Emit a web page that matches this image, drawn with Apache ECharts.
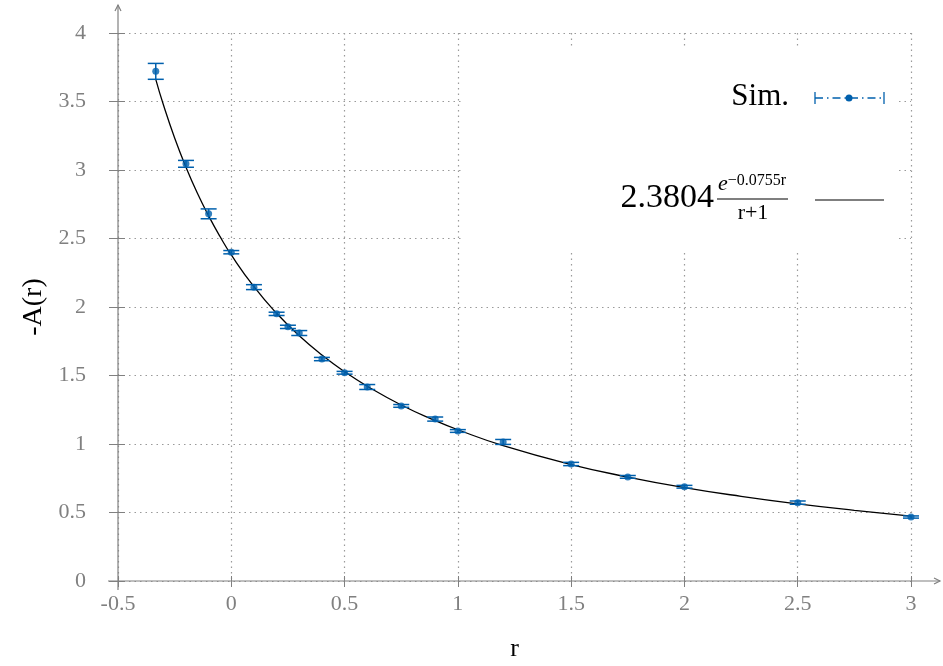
<!DOCTYPE html>
<html>
<head>
<meta charset="utf-8">
<script src="https://cdn.jsdelivr.net/npm/echarts@6/dist/echarts.min.js"></script>
<style>
html,body{margin:0;padding:0;background:#fff;}
#main{width:943px;height:666px;}
</style>
</head>
<body>
<div id="main"></div>
<script>
// ---- data ----
const rValues = [-0.3333, -0.2, -0.1, 0, 0.1, 0.2, 0.25, 0.3, 0.4, 0.5, 0.6, 0.75, 0.9, 1.0, 1.2, 1.5, 1.75, 2.0, 2.5, 3.0];
const simValues = [3.72, 3.045, 2.68, 2.40, 2.145, 1.95, 1.855, 1.81, 1.62, 1.52, 1.416, 1.278, 1.182, 1.095, 1.015, 0.854, 0.76, 0.688, 0.572, 0.467];
const simErrors = [0.058, 0.025, 0.036, 0.012, 0.018, 0.012, 0.012, 0.018, 0.012, 0.01, 0.018, 0.01, 0.015, 0.01, 0.018, 0.012, 0.01, 0.01, 0.012, 0.008];
const fitR = [-0.3333, -0.3, -0.25, -0.2, -0.15, -0.1, -0.05, 0, 0.1, 0.2, 0.3, 0.4, 0.5, 0.6, 0.75, 0.9, 1.0, 1.2, 1.5, 1.75, 2.0, 2.25, 2.5, 2.75, 3.0];
const fitValues = [3.662, 3.478, 3.234, 3.021, 2.832, 2.665, 2.515, 2.380, 2.148, 1.954, 1.790, 1.650, 1.528, 1.422, 1.285, 1.171, 1.104, 0.988, 0.850, 0.759, 0.682, 0.618, 0.563, 0.516, 0.474];
const xTicks = {min: -0.5, max: 3, step: 0.5};
const yTicks = {min: 0, max: 4, step: 0.5};
const xName = 'r';
const yName = '-A(r)';
const simLabel = 'Sim.';
const fitCoef = '2.3804';
const fitExp = '−0.0755r';
const fitDen = 'r+1';

const BLUE = '#0060ad';
const GRAY = '#808080';
const SERIF = '"Liberation Serif", "DejaVu Serif", serif';

const chart = echarts.init(document.getElementById('main'), null, {renderer: 'canvas'});

const simData = rValues.map((r, i) => [r, simValues[i]]);
const errData = rValues.map((r, i) => [r, simValues[i] - simErrors[i], simValues[i] + simErrors[i]]);
const fitData = fitR.map((r, i) => [r, fitValues[i]]);

const gridLine = {show: true, lineStyle: {color: '#9a9a9a', type: [1.5, 4], width: 1.2}};

const option = {
  animation: false,
  backgroundColor: '#fff',
  grid: {left: 118, right: 32, top: 33, bottom: 85, outerBoundsMode: 'none', containLabel: false},
  xAxis: [
    {
      type: 'value', min: xTicks.min, max: xTicks.max, interval: xTicks.step,
      position: 'bottom',
      axisLine: {show: false, onZero: false},
      axisTick: {show: true, length: 6, lineStyle: {color: GRAY}},
      axisLabel: {color: GRAY, fontFamily: SERIF, fontSize: 22, margin: 12},
      splitLine: gridLine,
      name: xName, nameLocation: 'middle', nameGap: 55,
      nameTextStyle: {color: '#000', fontFamily: SERIF, fontSize: 26}
    },
    {
      type: 'value', min: xTicks.min, max: xTicks.max, interval: xTicks.step,
      position: 'bottom',
      axisLine: {show: false, onZero: false},
      axisTick: {show: true, inside: true, length: 5, lineStyle: {color: GRAY}},
      axisLabel: {show: false},
      splitLine: {show: false}
    }
  ],
  yAxis: [
    {
      type: 'value', min: yTicks.min, max: yTicks.max, interval: yTicks.step,
      position: 'left',
      axisLine: {show: false, onZero: false},
      axisTick: {show: true, length: 9, lineStyle: {color: GRAY}},
      axisLabel: {color: GRAY, fontFamily: SERIF, fontSize: 22, margin: 32},
      splitLine: gridLine,
      name: yName, nameLocation: 'middle', nameGap: 65, nameRotate: 90,
      nameTextStyle: {color: '#000', fontFamily: SERIF, fontSize: 28}
    },
    {
      type: 'value', min: yTicks.min, max: yTicks.max, interval: yTicks.step,
      position: 'left',
      axisLine: {show: false, onZero: false},
      axisTick: {show: true, inside: true, length: 7, lineStyle: {color: GRAY}},
      axisLabel: {show: false},
      splitLine: {show: false}
    }
  ],
  series: [
    {
      type: 'line', name: 'fit', data: fitData, smooth: 0.5, showSymbol: false,
      lineStyle: {color: '#000', width: 1.3}, z: 3
    },
    {
      type: 'custom', name: 'err', data: errData,
      renderItem: function (params, api) {
        const x = api.value(0);
        const lo = api.coord([x, api.value(1)]);
        const hi = api.coord([x, api.value(2)]);
        const w = 8;
        const style = {stroke: BLUE, lineWidth: 1.5};
        return {
          type: 'group',
          children: [
            {type: 'line', shape: {x1: lo[0], y1: lo[1], x2: hi[0], y2: hi[1]}, style},
            {type: 'line', shape: {x1: lo[0] - w, y1: lo[1], x2: lo[0] + w, y2: lo[1]}, style},
            {type: 'line', shape: {x1: hi[0] - w, y1: hi[1], x2: hi[0] + w, y2: hi[1]}, style}
          ]
        };
      },
      z: 4
    },
    {
      type: 'scatter', name: simLabel, data: simData, symbol: 'circle', symbolSize: 7,
      itemStyle: {color: BLUE}, z: 5
    }
  ]
};
chart.setOption(option);

// axis lines with arrows, and legend
const o = chart.convertToPixel({gridIndex: 0}, [xTicks.min, yTicks.min]);
const e = chart.convertToPixel({gridIndex: 0}, [xTicks.max, yTicks.max]);
const axStyle = {stroke: GRAY, lineWidth: 1.2};
const gfx = [
  {type: 'line', shape: {x1: o[0] - 10, y1: o[1], x2: e[0] + 29, y2: o[1]}, style: axStyle, z: 10},
  {type: 'polyline', shape: {points: [[e[0] + 23, o[1] - 3], [e[0] + 29, o[1]], [e[0] + 23, o[1] + 3]]}, style: axStyle, z: 10},
  {type: 'line', shape: {x1: o[0], y1: o[1] + 9, x2: o[0], y2: e[1] - 28}, style: axStyle, z: 10},
  {type: 'polyline', shape: {points: [[o[0] - 3, e[1] - 22], [o[0], e[1] - 28], [o[0] + 3, e[1] - 22]]}, style: axStyle, z: 10},
  // legend box (white, no border)
  {type: 'rect', shape: {x: 463, y: 47, width: 432, height: 206}, style: {fill: '#fff'}, z: 20},
  // legend: Sim.
  {type: 'text', x: 789, y: 97, style: {text: simLabel, fill: '#000', font: '31px ' + SERIF, align: 'right', verticalAlign: 'middle'}, z: 21},
  {type: 'line', shape: {x1: 815, y1: 98, x2: 884, y2: 98}, style: {stroke: BLUE, lineWidth: 1.3, lineDash: [8, 4, 1.5, 4]}, z: 21},
  {type: 'line', shape: {x1: 815, y1: 92, x2: 815, y2: 104}, style: {stroke: BLUE, lineWidth: 1.3}, z: 21},
  {type: 'line', shape: {x1: 884, y1: 92, x2: 884, y2: 104}, style: {stroke: BLUE, lineWidth: 1.3}, z: 21},
  {type: 'circle', shape: {cx: 849, cy: 98, r: 3.5}, style: {fill: BLUE}, z: 22},
  // legend: fit formula
  {type: 'text', x: 714, y: 198, style: {text: fitCoef, fill: '#000', font: '34px ' + SERIF, align: 'right', verticalAlign: 'middle'}, z: 21},
  {type: 'text', x: 752, y: 184, style: {
      text: '{e|e}{s|' + fitExp + '}', align: 'center', verticalAlign: 'middle',
      rich: {e: {font: 'italic 22px ' + SERIF, fill: '#000', verticalAlign: 'bottom'}, s: {font: '16px ' + SERIF, fill: '#000', verticalAlign: 'top'}}
    }, z: 21},
  {type: 'line', shape: {x1: 717, y1: 199, x2: 788, y2: 199}, style: {stroke: '#000', lineWidth: 1.2}, z: 21},
  {type: 'text', x: 753, y: 213, style: {text: fitDen, fill: '#000', font: '22px ' + SERIF, align: 'center', verticalAlign: 'middle'}, z: 21},
  {type: 'line', shape: {x1: 815, y1: 200, x2: 884, y2: 200}, style: {stroke: '#000', lineWidth: 1.2}, z: 21}
];
chart.setOption({graphic: gfx});
</script>
</body>
</html>
